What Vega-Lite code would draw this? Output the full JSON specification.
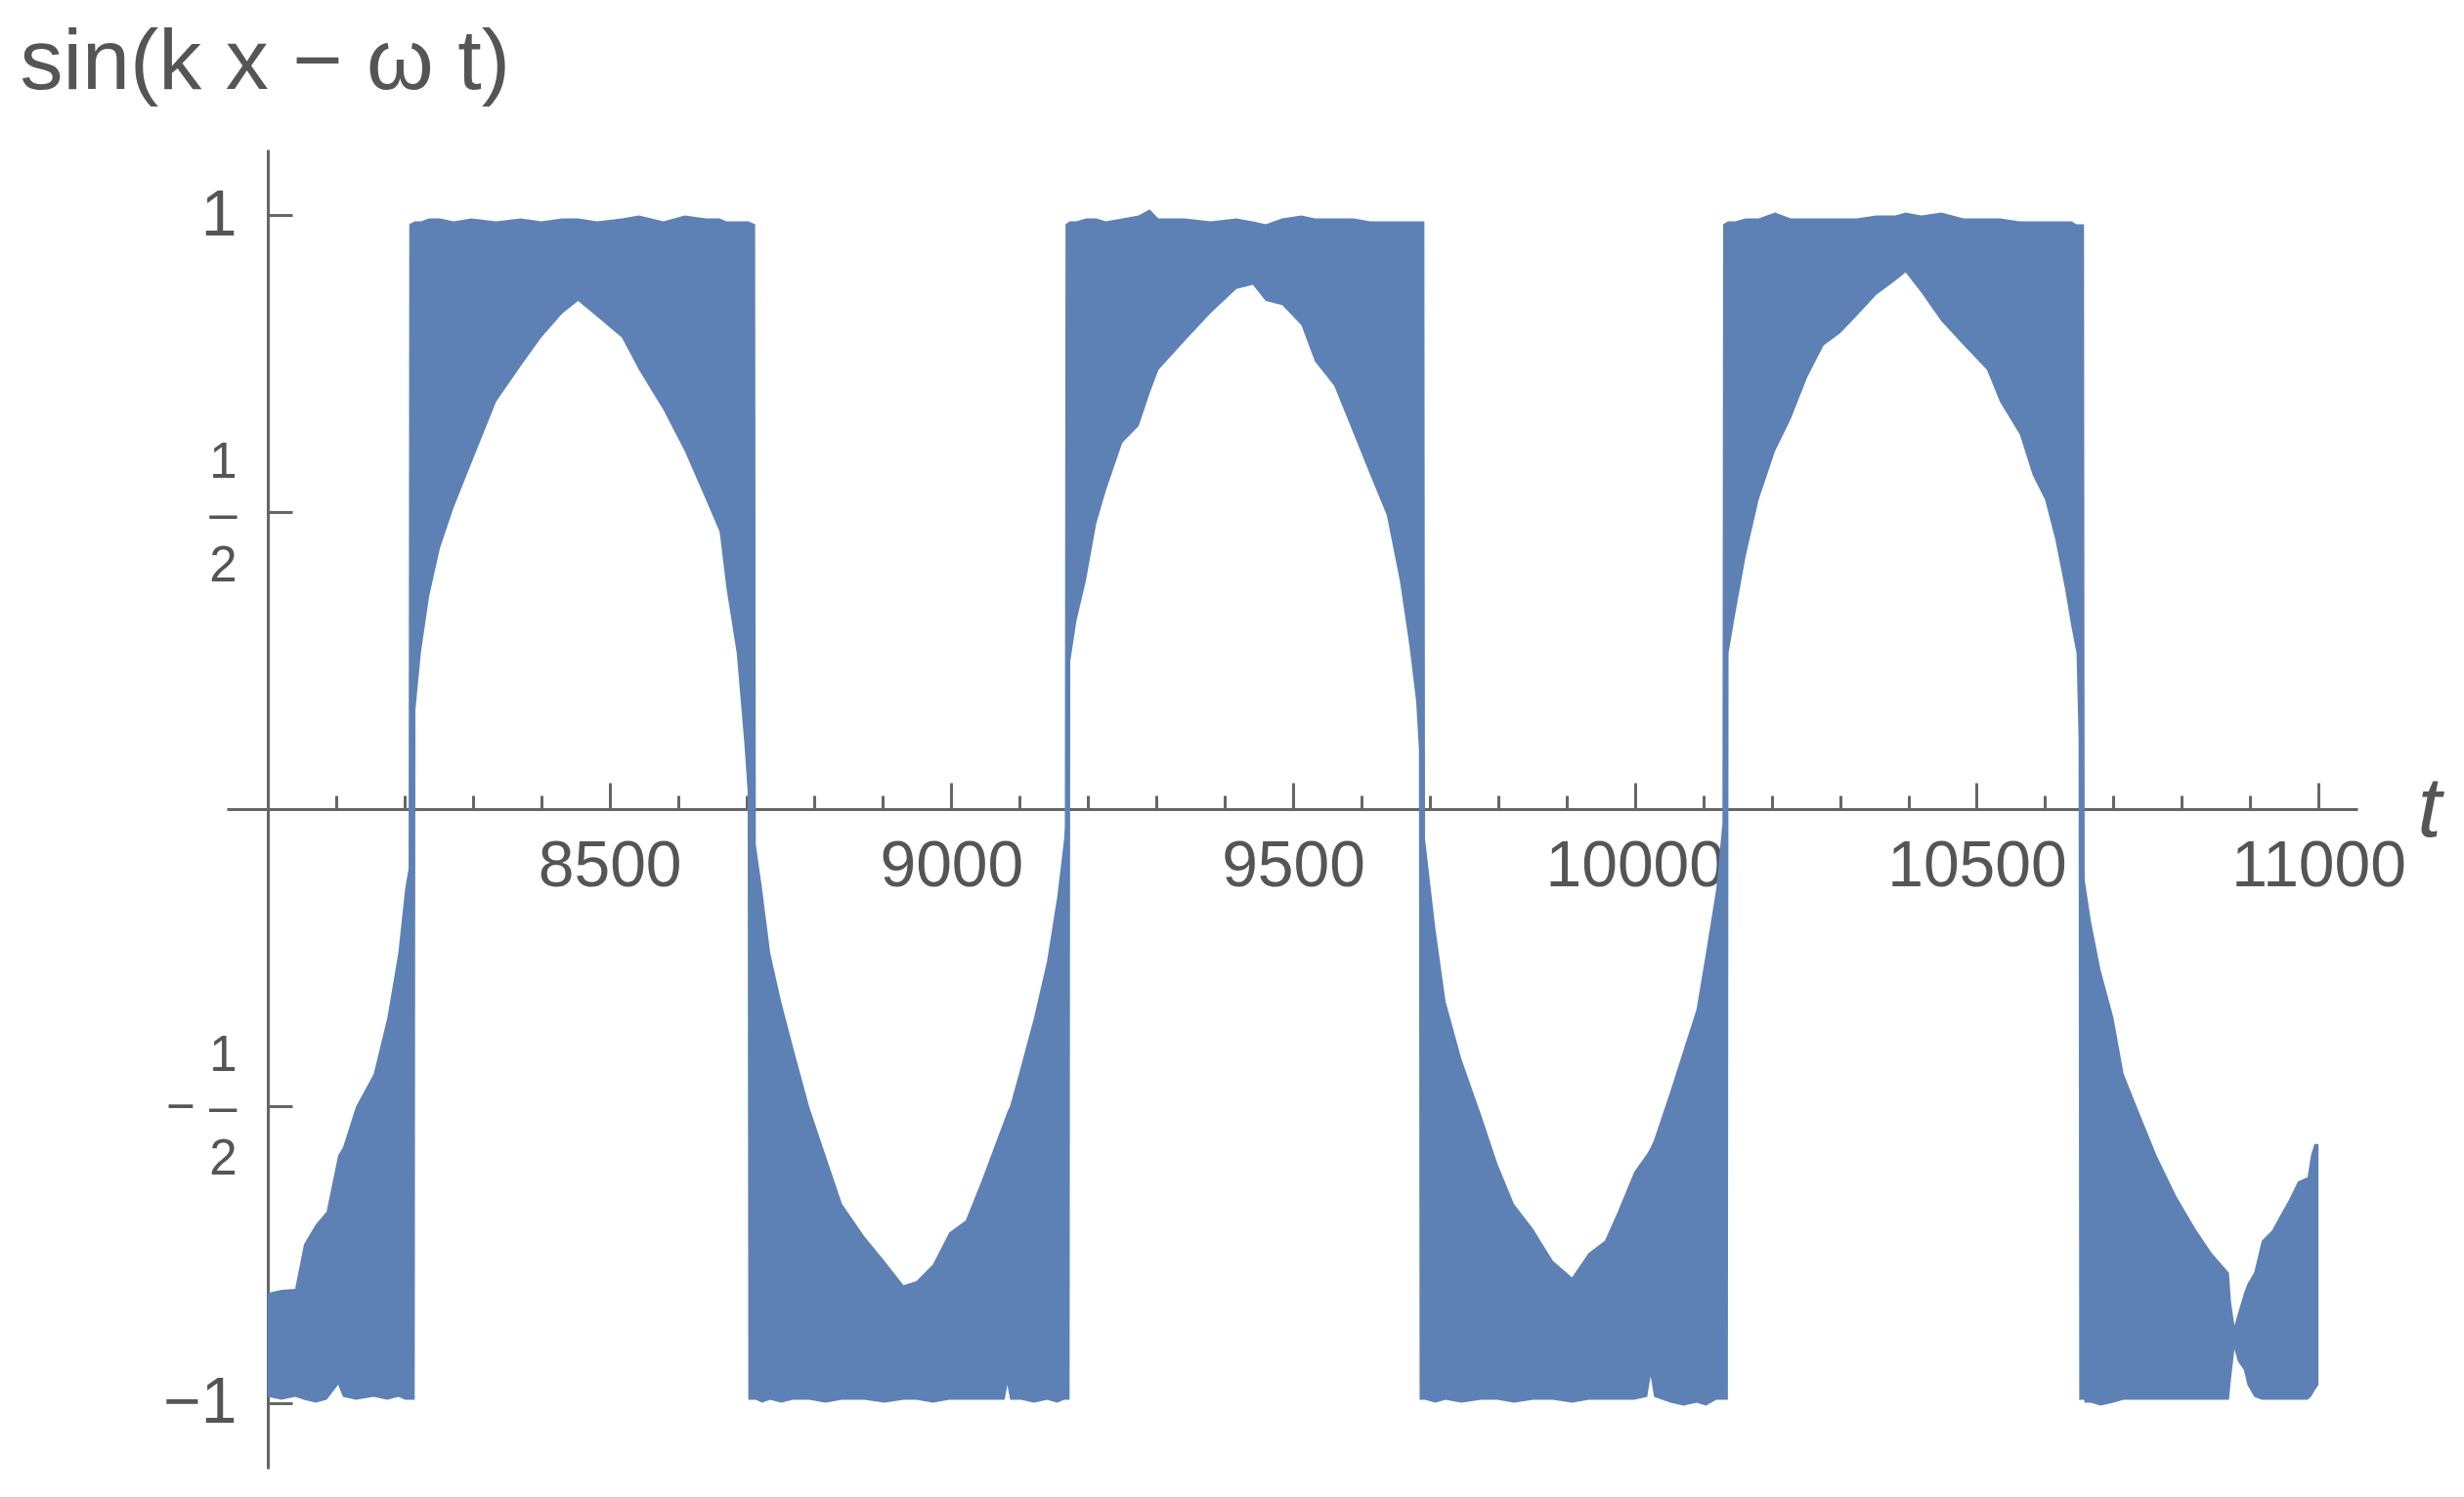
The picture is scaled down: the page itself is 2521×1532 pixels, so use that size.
{
  "$schema": "https://vega.github.io/schema/vega-lite/v6.json",
  "width": 2180,
  "height": 1350,
  "autosize": {"type": "none"},
  "padding": {"left": 232, "top": 153, "right": 109, "bottom": 29},
  "background": "white",
  "config": {"view": {"stroke": null}, "font": "Liberation Sans"},
  "data": {"values": [
    {"t":8000,"hi":-0.815,"lo":-0.99},
    {"t":8020,"hi":-0.81,"lo":-0.995},
    {"t":8040,"hi":-0.808,"lo":-0.99},
    {"t":8053,"hi":-0.733,"lo":-0.995},
    {"t":8070,"hi":-0.70,"lo":-1.0},
    {"t":8086,"hi":-0.678,"lo":-0.995},
    {"t":8103,"hi":-0.583,"lo":-0.97},
    {"t":8110,"hi":-0.57,"lo":-0.99},
    {"t":8129,"hi":-0.501,"lo":-0.995},
    {"t":8155,"hi":-0.446,"lo":-0.99},
    {"t":8175,"hi":-0.351,"lo":-0.995},
    {"t":8191,"hi":-0.242,"lo":-0.99},
    {"t":8201,"hi":-0.134,"lo":-0.995},
    {"t":8206,"hi":-0.10,"lo":-0.995},
    {"t":8207,"hi":0.985,"lo":-0.995},
    {"t":8215,"hi":0.99,"lo":-0.995},
    {"t":8216,"hi":0.99,"lo":0.167},
    {"t":8224,"hi":0.99,"lo":0.263},
    {"t":8236,"hi":0.995,"lo":0.358},
    {"t":8252,"hi":0.995,"lo":0.44},
    {"t":8272,"hi":0.99,"lo":0.508},
    {"t":8298,"hi":0.995,"lo":0.583},
    {"t":8334,"hi":0.99,"lo":0.686},
    {"t":8370,"hi":0.995,"lo":0.746},
    {"t":8400,"hi":0.99,"lo":0.794},
    {"t":8431,"hi":0.995,"lo":0.835},
    {"t":8454,"hi":0.995,"lo":0.856},
    {"t":8482,"hi":0.99,"lo":0.829},
    {"t":8518,"hi":0.995,"lo":0.794},
    {"t":8543,"hi":1.0,"lo":0.740},
    {"t":8579,"hi":0.99,"lo":0.672},
    {"t":8610,"hi":1.0,"lo":0.603},
    {"t":8641,"hi":0.995,"lo":0.521},
    {"t":8661,"hi":0.995,"lo":0.467},
    {"t":8671,"hi":0.99,"lo":0.372},
    {"t":8686,"hi":0.99,"lo":0.263},
    {"t":8697,"hi":0.99,"lo":0.113},
    {"t":8702,"hi":0.99,"lo":0.03},
    {"t":8703,"hi":0.99,"lo":-0.995},
    {"t":8713,"hi":0.985,"lo":-0.995},
    {"t":8714,"hi":-0.06,"lo":-0.995},
    {"t":8723,"hi":-0.133,"lo":-1.0},
    {"t":8735,"hi":-0.242,"lo":-0.995},
    {"t":8751,"hi":-0.324,"lo":-1.0},
    {"t":8768,"hi":-0.399,"lo":-0.995},
    {"t":8792,"hi":-0.501,"lo":-0.995},
    {"t":8816,"hi":-0.583,"lo":-1.0},
    {"t":8840,"hi":-0.665,"lo":-0.995},
    {"t":8873,"hi":-0.72,"lo":-0.995},
    {"t":8902,"hi":-0.761,"lo":-1.0},
    {"t":8930,"hi":-0.802,"lo":-0.995},
    {"t":8949,"hi":-0.795,"lo":-0.995},
    {"t":8973,"hi":-0.767,"lo":-1.0},
    {"t":8997,"hi":-0.713,"lo":-0.995},
    {"t":9021,"hi":-0.693,"lo":-0.995},
    {"t":9045,"hi":-0.624,"lo":-0.995},
    {"t":9078,"hi":-0.522,"lo":-0.995},
    {"t":9082,"hi":-0.51,"lo":-0.97},
    {"t":9086,"hi":-0.50,"lo":-0.995},
    {"t":9102,"hi":-0.433,"lo":-0.995},
    {"t":9121,"hi":-0.351,"lo":-1.0},
    {"t":9140,"hi":-0.256,"lo":-0.995},
    {"t":9155,"hi":-0.147,"lo":-1.0},
    {"t":9165,"hi":-0.05,"lo":-0.995},
    {"t":9166,"hi":-0.03,"lo":-0.995},
    {"t":9167,"hi":0.985,"lo":-0.995},
    {"t":9173,"hi":0.99,"lo":-0.995},
    {"t":9174,"hi":0.99,"lo":0.249},
    {"t":9183,"hi":0.99,"lo":0.317},
    {"t":9197,"hi":0.995,"lo":0.385},
    {"t":9212,"hi":0.995,"lo":0.481},
    {"t":9226,"hi":0.99,"lo":0.536},
    {"t":9250,"hi":0.995,"lo":0.617},
    {"t":9274,"hi":1.0,"lo":0.645},
    {"t":9290,"hi":1.01,"lo":0.70},
    {"t":9303,"hi":0.995,"lo":0.740},
    {"t":9341,"hi":0.995,"lo":0.788},
    {"t":9379,"hi":0.99,"lo":0.835},
    {"t":9417,"hi":0.995,"lo":0.876},
    {"t":9441,"hi":0.99,"lo":0.883},
    {"t":9460,"hi":0.985,"lo":0.856},
    {"t":9484,"hi":0.995,"lo":0.849},
    {"t":9512,"hi":1.0,"lo":0.815},
    {"t":9532,"hi":0.995,"lo":0.754},
    {"t":9560,"hi":0.995,"lo":0.713},
    {"t":9589,"hi":0.995,"lo":0.631},
    {"t":9613,"hi":0.99,"lo":0.562},
    {"t":9637,"hi":0.99,"lo":0.495},
    {"t":9656,"hi":0.99,"lo":0.385},
    {"t":9670,"hi":0.99,"lo":0.276},
    {"t":9680,"hi":0.99,"lo":0.181},
    {"t":9684,"hi":0.99,"lo":0.10},
    {"t":9685,"hi":0.99,"lo":-0.995},
    {"t":9692,"hi":0.99,"lo":-0.995},
    {"t":9693,"hi":-0.05,"lo":-0.995},
    {"t":9708,"hi":-0.2,"lo":-1.0},
    {"t":9723,"hi":-0.324,"lo":-0.995},
    {"t":9746,"hi":-0.42,"lo":-1.0},
    {"t":9775,"hi":-0.515,"lo":-0.995},
    {"t":9799,"hi":-0.598,"lo":-0.995},
    {"t":9823,"hi":-0.665,"lo":-1.0},
    {"t":9851,"hi":-0.707,"lo":-0.995},
    {"t":9880,"hi":-0.761,"lo":-0.995},
    {"t":9908,"hi":-0.789,"lo":-1.0},
    {"t":9932,"hi":-0.748,"lo":-0.995},
    {"t":9956,"hi":-0.727,"lo":-0.995},
    {"t":9975,"hi":-0.678,"lo":-0.995},
    {"t":9999,"hi":-0.611,"lo":-0.995},
    {"t":10018,"hi":-0.58,"lo":-0.99},
    {"t":10023,"hi":-0.57,"lo":-0.955},
    {"t":10028,"hi":-0.557,"lo":-0.99},
    {"t":10052,"hi":-0.475,"lo":-1.0},
    {"t":10071,"hi":-0.406,"lo":-1.005},
    {"t":10090,"hi":-0.338,"lo":-1.0},
    {"t":10104,"hi":-0.242,"lo":-1.005},
    {"t":10119,"hi":-0.134,"lo":-0.995},
    {"t":10128,"hi":-0.024,"lo":-0.995},
    {"t":10129,"hi":0.985,"lo":-0.995},
    {"t":10136,"hi":0.99,"lo":-0.995},
    {"t":10137,"hi":0.99,"lo":0.263},
    {"t":10147,"hi":0.99,"lo":0.330},
    {"t":10162,"hi":0.995,"lo":0.426},
    {"t":10181,"hi":0.995,"lo":0.521},
    {"t":10205,"hi":1.005,"lo":0.603},
    {"t":10228,"hi":0.995,"lo":0.657},
    {"t":10252,"hi":0.995,"lo":0.727},
    {"t":10276,"hi":0.995,"lo":0.781},
    {"t":10300,"hi":0.995,"lo":0.801},
    {"t":10324,"hi":0.995,"lo":0.830},
    {"t":10353,"hi":1.0,"lo":0.866},
    {"t":10381,"hi":1.0,"lo":0.890},
    {"t":10396,"hi":1.005,"lo":0.904},
    {"t":10419,"hi":1.0,"lo":0.870},
    {"t":10448,"hi":1.005,"lo":0.822},
    {"t":10481,"hi":0.995,"lo":0.781},
    {"t":10515,"hi":0.995,"lo":0.740},
    {"t":10534,"hi":0.995,"lo":0.686},
    {"t":10563,"hi":0.99,"lo":0.631},
    {"t":10582,"hi":0.99,"lo":0.562},
    {"t":10600,"hi":0.99,"lo":0.521},
    {"t":10615,"hi":0.99,"lo":0.454},
    {"t":10629,"hi":0.99,"lo":0.372},
    {"t":10639,"hi":0.99,"lo":0.304},
    {"t":10646,"hi":0.985,"lo":0.263},
    {"t":10649,"hi":0.985,"lo":0.12},
    {"t":10650,"hi":0.985,"lo":-0.995},
    {"t":10657,"hi":0.985,"lo":-0.995},
    {"t":10658,"hi":-0.119,"lo":-1.0},
    {"t":10667,"hi":-0.188,"lo":-1.0},
    {"t":10681,"hi":-0.27,"lo":-1.005},
    {"t":10700,"hi":-0.351,"lo":-1.0},
    {"t":10715,"hi":-0.446,"lo":-0.995},
    {"t":10739,"hi":-0.515,"lo":-0.995},
    {"t":10763,"hi":-0.583,"lo":-0.995},
    {"t":10792,"hi":-0.652,"lo":-0.995},
    {"t":10820,"hi":-0.707,"lo":-0.995},
    {"t":10844,"hi":-0.748,"lo":-0.995},
    {"t":10869,"hi":-0.781,"lo":-0.995},
    {"t":10872,"hi":-0.83,"lo":-0.96},
    {"t":10877,"hi":-0.87,"lo":-0.91},
    {"t":10882,"hi":-0.85,"lo":-0.93},
    {"t":10891,"hi":-0.815,"lo":-0.945},
    {"t":10896,"hi":-0.80,"lo":-0.97},
    {"t":10906,"hi":-0.78,"lo":-0.99},
    {"t":10917,"hi":-0.727,"lo":-0.995},
    {"t":10932,"hi":-0.71,"lo":-0.995},
    {"t":10946,"hi":-0.68,"lo":-0.995},
    {"t":10956,"hi":-0.66,"lo":-0.995},
    {"t":10970,"hi":-0.627,"lo":-0.995},
    {"t":10984,"hi":-0.62,"lo":-0.995},
    {"t":10989,"hi":-0.583,"lo":-0.99},
    {"t":10994,"hi":-0.564,"lo":-0.98},
    {"t":11000,"hi":-0.564,"lo":-0.97}
  ]},
  "mark": {"type": "area", "color": "#5e81b5", "opacity": 1, "interpolate": "linear"},
  "encoding": {
    "x": {
      "field": "t", "type": "quantitative",
      "scale": {"domain": [7940, 11057], "nice": false, "zero": false},
      "axis": {
        "orient": "bottom", "offset": -675,
        "values": [8100,8200,8300,8400,8500,8600,8700,8800,8900,9000,9100,9200,9300,9400,9500,9600,9700,9800,9900,10000,10100,10200,10300,10400,10500,10600,10700,10800,10900,11000],
        "grid": false,
        "domainColor": "#666666", "domainWidth": 3,
        "tickColor": "#666666", "tickWidth": 3,
        "tickSize": {"condition": {"test": "datum.value % 500 === 0", "value": -27}, "value": -14},
        "labelExpr": "datum.value % 500 === 0 ? format(datum.value, 'd') : ''",
        "labelFont": "Liberation Sans", "labelFontSize": 66, "labelColor": "#555555",
        "labelPadding": 53, "labelFlush": false, "labelOverlap": false, "labelBound": false, "labelLimit": 0,
        "title": "t", "titleFont": "Liberation Sans", "titleFontStyle": "italic", "titleFontWeight": "normal",
        "titleFontSize": 88, "titleColor": "#555555",
        "titleX": 2241, "titleY": 27, "titleAlign": "left", "titleBaseline": "alphabetic", "titleAngle": 0
      }
    },
    "y": {
      "field": "hi", "type": "quantitative",
      "scale": {"domain": [-1.111, 1.111], "nice": false, "zero": false},
      "axis": {
        "orient": "left", "offset": -42,
        "values": [-1, -0.5, 0.5, 1],
        "grid": false,
        "domainColor": "#666666", "domainWidth": 3,
        "tickColor": "#666666", "tickWidth": 3, "tickSize": -25,
        "labelExpr": "datum.value === 1 ? '1' : datum.value === 0.5 ? ['1','\u2013','2'] : datum.value === -0.5 ? ['1','\u2212 \u2013','2'] : '\u22121'",
        "labelFont": "Liberation Sans",
        "labelFontSize": {"condition": {"test": "abs(datum.value) === 0.5", "value": 51}, "value": 66},
        "labelOffset": {"condition": {"test": "abs(datum.value) === 0.5", "value": -51}, "value": 0},
        "labelLineHeight": 53,
        "labelColor": "#555555", "labelAlign": "right", "labelBaseline": "middle",
        "labelPadding": 57, "labelFlush": false, "labelOverlap": false, "labelBound": false, "labelLimit": 0,
        "title": "sin(k x \u2212 \u03c9 t)", "titleFont": "Liberation Sans", "titleFontWeight": "normal",
        "titleFontSize": 88, "titleColor": "#555555", "titleAngle": 0,
        "titleX": -254, "titleY": -63, "titleAlign": "left", "titleBaseline": "alphabetic"
      }
    },
    "y2": {"field": "lo"}
  }
}
